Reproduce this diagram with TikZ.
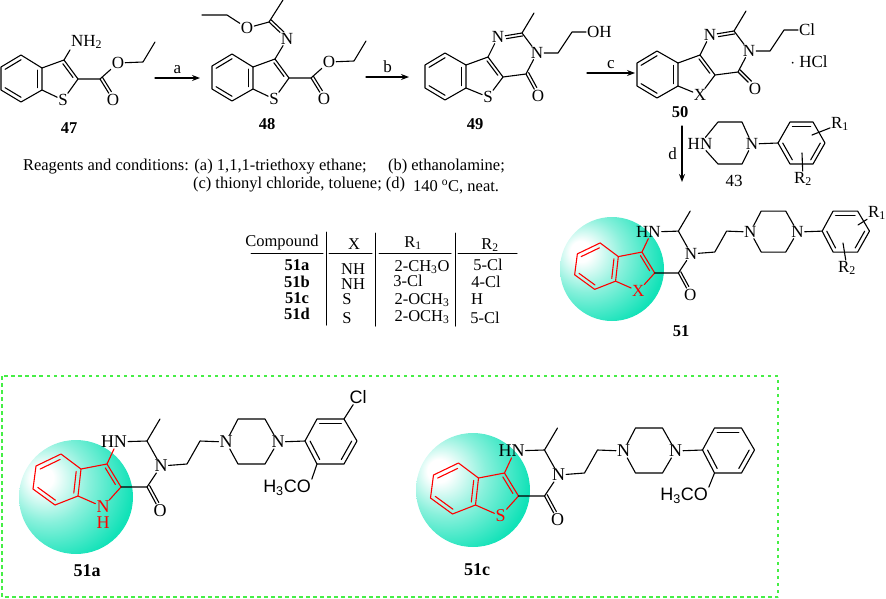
\documentclass[tikz,border=0pt]{standalone}
\usepackage{fontspec}
\setmainfont{Liberation Serif}
\newfontfamily\armfont{Liberation Sans}
\usetikzlibrary{calc,arrows.meta}

\newcommand{\innerbond}[4][.2]{\draw ($(#2)!#1!(#4)$) -- ($(#3)!#1!(#4)$);}
\newcommand{\oxobond}[3]{\draw[shorten >=8pt] ($(#1)!#3!90:(#2)$) -- ($(#2)!#3!-90:(#1)$);}
\newcommand{\hexring}[7]{
  \coordinate (#1a) at (#2); \coordinate (#1b) at (#3); \coordinate (#1c) at (#4);
  \coordinate (#1d) at (#5); \coordinate (#1e) at (#6); \coordinate (#1f) at (#7);
  \coordinate (#1m) at ($(#1a)!.5!(#1d)$);
  \draw (#1a) -- (#1b) -- (#1c) -- (#1d) -- (#1e) -- (#1f) -- cycle;
  \innerbond{#1a}{#1b}{#1m} \innerbond{#1c}{#1d}{#1m} \innerbond{#1e}{#1f}{#1m}
}
\newcommand{\thioester}[1]{
  \hexring{#1r}{1,67}{21,55}{42,68}{42,90}{21,102}{1,90}
  \coordinate (#1cc) at (64,60);
  \coordinate (#1cb) at (78,79);
  \coordinate (#1co) at (100,79);
  \coordinate (#1ch) at (143,62);
  \coordinate (#1me) at (155,42);
  \node (#1s) at (63,100) {S};
  \node (#1od) at (113,100) {O};
  \node (#1oe) at (118,63) {O};
  \coordinate (#1t) at ($(#1rc)!.5!(#1cb)$);
  \draw (#1rc) -- (#1cc) -- (#1cb) -- (#1s) -- (#1rd);
  \innerbond[.28]{#1cc}{#1cb}{#1t}
  \draw (#1cb) -- (#1co) -- (#1oe) -- (#1ch) -- (#1me);
  \draw (#1co) -- (#1od);
  \oxobond{#1co}{#1od}{3pt}
}
\newcommand{\pyrimo}[4]{
  \hexring{#1r}{425,65}{445,53}{466,65}{466,88}{445,100}{425,88}
  \coordinate (#1cc) at (488,57);
  \coordinate (#1cb) at (503,77);
  \coordinate (#1ck) at (522,33);
  \coordinate (#1me) at (534,13);
  \coordinate (#1co) at (526,74);
  \coordinate (#1ch) at (558,53);
  \coordinate (#1ci) at (572,32);
  \node (#1x) at (488,97) {#2};
  \node (#1nn) at (498,37) {N};
  \node (#1nt) at (537,53) {N};
  \node (#1o) at (#4) {O};
  \node[anchor=west] (#1end) at (586,32) {#3};
  \coordinate (#1t) at ($(#1rc)!.5!(#1cb)$);
  \draw (#1rc) -- (#1cc) -- (#1cb) -- (#1x) -- (#1rd);
  \innerbond[.28]{#1cc}{#1cb}{#1t}
  \draw (#1cc) -- (#1nn) -- (#1ck) -- (#1nt) -- (#1co) -- (#1cb);
  \draw[shorten <=8pt] ($(#1nn)!3pt!-90:(#1ck)$) -- ($(#1ck)!3pt!90:(#1nn)$);
  \draw (#1ck) -- (#1me);
  \draw (#1co) -- (#1o);
  \oxobond{#1co}{#1o}{3pt}
  \draw (#1nt) -- (#1ch) -- (#1ci) -- (#1end);
}
\newcommand{\armcore}[1]{
  \coordinate (#1k) at (107,464);
  \coordinate (#1j) at (121,487);
  \coordinate (#1l) at (147,441);
  \coordinate (#1me) at (160,419);
  \coordinate (#1co) at (147,487);
  \coordinate (#1cd) at (187,464);
  \coordinate (#1ce) at (200,441);
  \coordinate (#1pa) at (238,419);
  \coordinate (#1pb) at (265,419);
  \coordinate (#1pc) at (265,464);
  \coordinate (#1pd) at (238,464);
  \node (#1hn) at (114,442) {HN};
  \node (#1nc) at (161,466) {N};
  \node (#1o) at (160,511) {O};
  \node (#1nl) at (226,442) {N};
  \node (#1nr) at (278,442) {N};
  \begin{scope}[red]
    \hexring{#1r}{36,466}{61,454}{81,469}{78,496}{55,505}{33,489}
    \coordinate (#1t) at ($(#1rc)!.5!(#1j)$);
    \draw (#1hn.south) -- (#1k) -- (#1j) -- (#1x) -- (#1rd);
    \draw (#1rc) -- (#1k);
    \innerbond[.28]{#1k}{#1j}{#1t}
  \end{scope}
  \draw (#1j) -- (#1co) -- (#1nc) -- (#1l) -- (#1hn);
  \draw (#1l) -- (#1me);
  \draw (#1co) -- (#1o);
  \oxobond{#1co}{#1o}{3pt}
  \draw (#1nc) -- (#1cd) -- (#1ce) -- (#1nl) -- (#1pa) -- (#1pb) -- (#1nr) -- (#1pc) -- (#1pd) -- (#1nl);
  \hexring{#1f}{317,419}{344,419}{357,441}{344,464}{317,464}{305,441}
  \draw (#1nr) -- (#1ff);
}
\definecolor{ballteal}{RGB}{18,226,184}
\definecolor{boxgreen}{RGB}{70,238,70}
\pgfdeclareradialshading{tealball}{\pgfpoint{-16bp}{9bp}}{
  color(0bp)=(white); color(5bp)=(white);
  color(18bp)=(ballteal!50!white); color(34bp)=(ballteal); color(80bp)=(ballteal)}

\begin{document}
\begin{tikzpicture}[x=1pt, y=-1pt, line width=1.1pt, line cap=round, line join=round,
  every node/.style = {inner sep=.5pt, font=\fontsize{17}{19}\selectfont},
  compound/.style = {font=\fontsize{16.5}{18}\selectfont\bfseries},
  largelabel/.style = {font=\fontsize{18}{20}\selectfont\bfseries},
  note/.style = {anchor=west, font=\fontsize{16.5}{18}\selectfont},
  cell/.style = {font=\fontsize{16.5}{18}\selectfont},
  rule/.style = {line width=1pt},
  shift arrow/.style = {-{Stealth[length=8pt,width=6pt]}},
  ball/.style = {shading=tealball}]
  \useasboundingbox (0,0) rectangle (886,598);

  \thioester{a}
  \node[anchor=west] (anh) at (70,42) {NH\textsubscript{2}};
  \draw (acc) -- (anh.south west);
  \node[compound] (n47) at (69,128) {47};

  \begin{scope}[shift={(211,-1)}]
    \thioester{b}
  \end{scope}
  \node (bn) at (287,39) {N};
  \node (bo) at (247,28) {O};
  \coordinate (bk) at (269,22);
  \coordinate (bq) at (283,0);
  \coordinate (bg) at (227,15);
  \coordinate (bf) at (202,15);
  \draw (bcc) -- (bn) -- (bk) -- (bq);
  \draw[shorten <=7pt] ($(bn)!3pt!-90:(bk)$) -- ($(bk)!3pt!90:(bn)$);
  \draw (bk) -- (bo) -- (bg) -- (bf);
  \node[compound] (n48) at (267,124) {48};

  \pyrimo{c}{S}{OH}{538,96}
  \node[compound] (n49) at (475,124) {49};
  \begin{scope}[shift={(212,-2)}]
    \pyrimo{d}{X}{Cl}{543,91}
  \end{scope}
  \node (dhcl) at (809,62) {$\cdot$ HCl};
  \node[compound] (n50) at (680,112) {50};

  \coordinate (aa) at (155,78);
  \coordinate (ab) at (200,78);
  \draw[shift arrow] (aa) -- (ab) node[midway, above=3pt] (la) {a};
  \coordinate (ba) at (366,77);
  \coordinate (bb) at (409,77);
  \draw[shift arrow] (ba) -- (bb) node[midway, above=3pt] (lb) {b};
  \coordinate (ca) at (587,73);
  \coordinate (cb) at (635,73);
  \draw[shift arrow] (ca) -- (cb) node[midway, above=3pt] (lc) {c};
  \coordinate (da) at (682,126);
  \coordinate (db) at (682,182);
  \draw[shift arrow] (da) -- (db) node[midway, left=4pt] (ld) {d};

  \node (ehn) at (700,144) {HN};
  \node (en) at (752,144) {N};
  \coordinate (ea) at (718,122);
  \coordinate (eb) at (742,122);
  \coordinate (ec) at (742,164);
  \coordinate (ed) at (718,164);
  \draw (ehn) -- (ea) -- (eb) -- (en) -- (ec) -- (ed) -- (ehn);
  \hexring{ef}{790,122}{813,122}{825,143}{813,164}{790,164}{778,143}
  \draw (en) -- (eff);
  \node (er1) at (840,124) {R\textsubscript{1}};
  \node (er2) at (803,179) {R\textsubscript{2}};
  \coordinate (eu) at (812,135);
  \coordinate (ev) at (802,153);
  \draw (er1) -- (eu);
  \draw (er2) -- (ev);
  \node (n43) at (734,181) {43};

  \node[note] (tone) at (22,167) {Reagents and conditions: (a) 1,1,1-triethoxy ethane;};
  \node[note] (ttwo) at (387,167) {(b) ethanolamine;};
  \node[note] (tthree) at (192,185) {(c) thionyl chloride, toluene; (d)};
  \node[note] (tfour) at (412,187) {140 \textsuperscript{o}C, neat.};

  \draw[rule] (326,232) -- (326,325);
  \draw[rule] (375,233) -- (375,326);
  \draw[rule] (455,233) -- (455,326);
  \draw[rule] (251,253) -- (323,253);
  \draw[rule] (329,253) -- (372,253);
  \draw[rule] (379,253) -- (451,253);
  \draw[rule] (458,253) -- (517,253);
  \node[cell] (thc) at (282,243) {Compound};
  \node[cell] (thx) at (354,244) {X};
  \node[cell] (tha) at (413,243) {R\textsubscript{1}};
  \node[cell] (thb) at (490,245) {R\textsubscript{2}};
  \node[compound] (ra) at (297,265) {51a};
  \node[compound] (rb) at (297,282) {51b};
  \node[compound] (rc) at (297,298) {51c};
  \node[compound] (rd) at (297,314) {51d};
  \node[cell] (xa) at (353,269) {NH};
  \node[cell] (xb) at (353,284) {NH};
  \node[cell] (xc) at (347,299) {S};
  \node[cell] (xd) at (347,318) {S};
  \node[cell] (ya) at (422,267) {2-CH\textsubscript{3}O};
  \node[cell] (yb) at (408,281) {3-Cl};
  \node[cell] (yc) at (422,300) {2-OCH\textsubscript{3}};
  \node[cell] (yd) at (422,317) {2-OCH\textsubscript{3}};
  \node[cell] (za) at (488,265) {5-Cl};
  \node[cell] (zb) at (486,282) {4-Cl};
  \node[cell] (zc) at (477,299) {H};
  \node[cell] (zd) at (485,318) {5-Cl};

  \shade[ball] (612,269) circle[radius=52];
  \begin{scope}[shift={(544.6,-170.2)}, scale=.91]
    \node[red] (gx) at (103,507) {X};
    \armcore{g}
  \end{scope}
  \node (gr1) at (877,213) {R\textsubscript{1}};
  \node (gr2) at (847,268) {R\textsubscript{2}};
  \coordinate (gu) at (858,225);
  \coordinate (gv) at (843,243);
  \draw (gr1) -- (gu);
  \draw (gr2) -- (gv);
  \node[compound] (n51) at (681,331) {51};

  \draw[boxgreen, line width=1.3pt, line cap=butt, dash pattern=on 3.5pt off 3.5pt] (2,376) rectangle (778,597);

  \begin{scope}[every node/.style = {inner sep=.5pt, font=\fontsize{18}{20}\selectfont}]
    \shade[ball] (76,497) circle[radius=57];
    \node[red] (hx) at (103,507) {N};
    \node[red] (hlow) at (103,523) {H};
    \armcore{h}
    \node (hcl) at (358,397) {\armfont Cl};
    \node (hom) at (287,488) {\armfont H\textsubscript{3}CO};
    \draw (hfb) -- (hcl);
    \draw (hfe) -- (hom.north east);
    \node[largelabel] (n51a) at (87,571) {51a};

    \shade[ball] (473,490) circle[radius=57];
    \begin{scope}[shift={(397.5,9)}]
      \node[red] (ix) at (103,507) {S};
      \armcore{i}
    \end{scope}
    \node (iom) at (684,496) {\armfont H\textsubscript{3}CO};
    \draw (ife) -- (iom.north east);
    \node[largelabel] (n51c) at (477,570) {51c};
  \end{scope}
\end{tikzpicture}
\end{document}
